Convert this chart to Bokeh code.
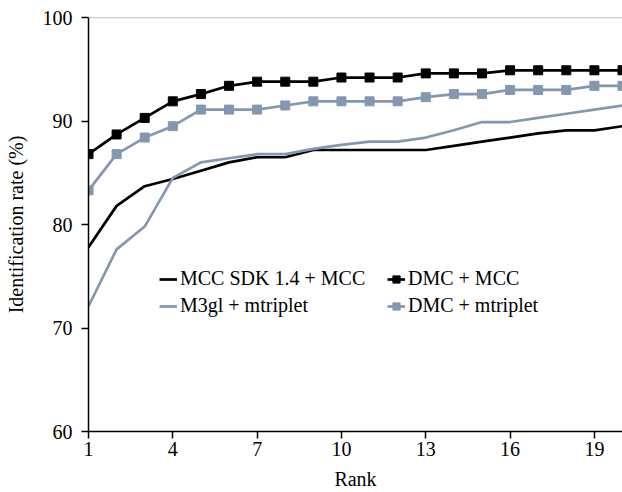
from bokeh.plotting import figure
from bokeh.models import FixedTicker, Span, Legend, LegendItem, Range1d
from bokeh.embed import file_html
from bokeh.resources import INLINE

ranks = list(range(1, 21))
mcc_sdk_mcc = [77.8, 81.8, 83.7, 84.4, 85.2, 86.0, 86.5, 86.5, 87.2, 87.2,
               87.2, 87.2, 87.2, 87.6, 88.0, 88.4, 88.8, 89.1, 89.1, 89.5]
dmc_mcc = [86.8, 88.7, 90.3, 91.9, 92.6, 93.4, 93.8, 93.8, 93.8, 94.2,
           94.2, 94.2, 94.6, 94.6, 94.6, 94.9, 94.9, 94.9, 94.9, 94.9]
m3gl_mtriplet = [72.1, 77.6, 79.8, 84.5, 86.0, 86.4, 86.8, 86.8, 87.3, 87.7,
                 88.0, 88.0, 88.4, 89.1, 89.9, 89.9, 90.3, 90.7, 91.1, 91.5]
dmc_mtriplet = [83.3, 86.8, 88.4, 89.5, 91.1, 91.1, 91.1, 91.5, 91.9, 91.9,
                91.9, 91.9, 92.3, 92.6, 92.6, 93.0, 93.0, 93.0, 93.4, 93.4]
x_ticks = [1, 4, 7, 10, 13, 16, 19]
y_ticks = [60, 70, 80, 90, 100]

BLACK = "#000000"
GRAY = "#8497b0"
FONT = "Liberation Serif"

p = figure(width=622, height=492, output_backend="svg", toolbar_location=None,
           x_range=Range1d(1, 20), y_range=Range1d(60, 100),
           min_border_left=88, min_border_right=0, min_border_top=17, min_border_bottom=60)
p.outline_line_color = None
p.xgrid.visible = False
p.ygrid.visible = False

r1 = p.line(ranks, mcc_sdk_mcc, line_color=BLACK, line_width=2.7)
r2 = p.line(ranks, dmc_mcc, line_color=BLACK, line_width=2.7)
r2m = p.scatter(ranks, dmc_mcc, marker="square", size=9, fill_color=BLACK, line_color=BLACK)
r3 = p.line(ranks, m3gl_mtriplet, line_color=GRAY, line_width=2.7)
r4 = p.line(ranks, dmc_mtriplet, line_color=GRAY, line_width=2.7)
r4m = p.scatter(ranks, dmc_mtriplet, marker="square", size=9, fill_color=GRAY, line_color=GRAY)

p.add_layout(Span(location=100, dimension="width", line_color="#a6a6c4", line_width=1.5))

for ax in (p.xaxis[0], p.yaxis[0]):
    ax.axis_line_color = BLACK
    ax.axis_line_width = 1.5
    ax.major_tick_line_color = BLACK
    ax.major_tick_line_width = 1.5
    ax.major_tick_in = 0
    ax.major_tick_out = 7
    ax.minor_tick_line_color = None
    ax.major_label_text_font = FONT
    ax.major_label_text_font_size = "20px"
    ax.major_label_text_color = BLACK
    ax.axis_label_text_font = FONT
    ax.axis_label_text_font_size = "20px"
    ax.axis_label_text_font_style = "normal"
    ax.axis_label_text_color = BLACK

p.xaxis.ticker = FixedTicker(ticks=x_ticks)
p.yaxis.ticker = FixedTicker(ticks=y_ticks)
p.xaxis.axis_label = "Rank"
p.yaxis.axis_label = "Identification rate (%)"
p.xaxis.major_label_standoff = 3
p.xaxis.axis_label_standoff = 9
p.yaxis.major_label_standoff = 9
p.yaxis.axis_label_standoff = 13


def make_legend(items, loc):
    lg = Legend(items=items, location=loc)
    lg.background_fill_alpha = 0
    lg.border_line_color = None
    lg.label_text_font = FONT
    lg.label_text_font_size = "20px"
    lg.label_text_color = BLACK
    lg.glyph_width = 18
    lg.glyph_height = 20
    lg.label_standoff = 3
    lg.spacing = 4
    lg.padding = 4
    lg.margin = 0
    lg.label_height = 20
    return lg


p.add_layout(make_legend([
    LegendItem(label="MCC SDK 1.4 + MCC", renderers=[r1]),
    LegendItem(label="M3gl + mtriplet", renderers=[r3]),
], (71, 114)))
p.add_layout(make_legend([
    LegendItem(label="DMC + MCC", renderers=[r2, r2m]),
    LegendItem(label="DMC + mtriplet", renderers=[r4, r4m]),
], (299, 114)))

open("out.html", "w").write(file_html(p, INLINE))
